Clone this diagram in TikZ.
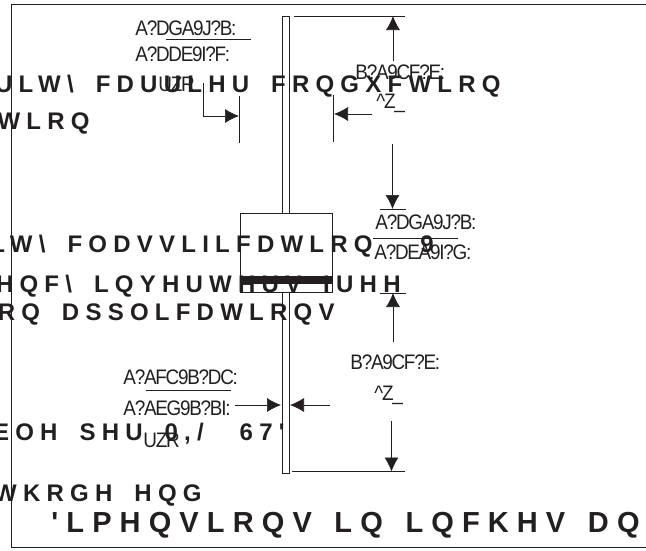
\documentclass[tikz,border=0pt]{standalone}
\usepackage{fontspec}
\usetikzlibrary{arrows.meta}
\newfontfamily\bigfont[LetterSpace=26,WordSpace=1.7]{Liberation Sans Bold}
\newfontfamily\hugefont[LetterSpace=28,WordSpace=1.4]{Liberation Sans Bold}
\newfontfamily\smallfont[LetterSpace=-6,FakeStretch=0.9]{Liberation Sans}
\definecolor{ink}{HTML}{231F20}
\begin{document}
\begin{tikzpicture}[x=1pt,y=-1pt,
    line width=0.8pt,draw=ink,text=ink,
    bigtxt/.style={anchor=base east,inner sep=0pt,font=\bigfont\fontsize{24}{24}\selectfont},
    hugetxt/.style={anchor=base east,inner sep=0pt,font=\hugefont\fontsize{29}{29}\selectfont},
    smalltxt/.style={anchor=base west,inner sep=0pt,font=\smallfont\fontsize{21}{21}\selectfont},
    dimline/.style={line width=0.7pt},
    dimarrow/.style={line width=0.7pt,-{Latex[length=14pt,width=14pt]}}]
  \useasboundingbox (0,0) rectangle (646,550);
  \clip (0,0) rectangle (646,550);
  % frame, tube and switch body
  \draw[line width=1.3pt] (660,4.5) -- (11.5,4.5) -- (11.5,547.5) -- (660,547.5);
  \draw (282,16) rectangle (289.5,473);
  \draw[fill=white] (240,213) rectangle (332,292);
  \fill[ink] (240,276) rectangle (332,283.5);
  % extension lines
  \coordinate (topa) at (294,16);
  \coordinate (topb) at (405,16);
  \coordinate (mida) at (380,209);
  \coordinate (midb) at (406,209);
  \coordinate (lowa) at (380,293);
  \coordinate (lowb) at (406,293);
  \coordinate (bota) at (292,471.5);
  \coordinate (botb) at (405,471.5);
  \coordinate (leftup) at (239.5,96);
  \coordinate (leftdn) at (239.5,143);
  \coordinate (rightup) at (333.5,95);
  \coordinate (rightdn) at (333.5,142);
  \coordinate (benda) at (203,83);
  \coordinate (bendb) at (203,116);
  \coordinate (bendc) at (239,116);
  \coordinate (ra) at (372,114);
  \coordinate (rb) at (334,114);
  \coordinate (fa) at (166,39.5);
  \coordinate (fb) at (251,39.5);
  \coordinate (ga) at (373,238);
  \coordinate (gb) at (458,238);
  \coordinate (ha) at (146,390);
  \coordinate (hb) at (231,390);
  \coordinate (s1) at (393,61);
  \coordinate (e1) at (393,16);
  \coordinate (s2) at (392.5,144);
  \coordinate (e2) at (392.5,209);
  \coordinate (s3) at (393,342);
  \coordinate (e3) at (393,293);
  \coordinate (s4) at (391.5,421);
  \coordinate (e4) at (391.5,471.5);
  \coordinate (s5) at (235,405);
  \coordinate (e5) at (281,405);
  \coordinate (s6) at (330,405);
  \coordinate (e6) at (290,405);
  \draw[dimline] (topa) to (topb);
  \draw[dimline] (mida) to (midb);
  \draw[dimline] (lowa) to (lowb);
  \draw[dimline] (bota) to (botb);
  \draw[dimline] (leftup) to (leftdn);
  \draw[dimline] (rightup) to (rightdn);
  \draw[dimline] (fa) to (fb);
  \draw[dimline] (ga) to (gb);
  \draw[dimline] (ha) to (hb);
  \draw[dimline] (benda) to (bendb);
  \begin{scope}[dimarrow]
    \draw (bendb) -- (bendc);
    \draw (ra) to (rb);
    \draw (s1) to (e1);
    \draw (s2) to (e2);
    \draw (s3) to (e3);
    \draw (s4) to (e4);
    \draw (s5) to (e5);
    \draw (s6) to (e6);
  \end{scope}
  % large text
  \node[bigtxt] (l1) at (501,92.5) {ULW\textbackslash\ FDUULHU FRQGXFWLRQ};
  \node[bigtxt] (l2) at (90,129) {WLRQ};
  \node[bigtxt] (l3) at (373,252) {LW\textbackslash\ FODVVLILFDWLRQ};
  \node[bigtxt] (l4) at (401,292) {HQF\textbackslash\ LQYHUWHUV IUHH};
  \node[bigtxt] (l5) at (335,320.5) {RQ DSSOLFDWLRQV};
  \node[bigtxt] (l6) at (285,440) {EOH SHU 0,/\hspace{14pt} 67'};
  \node[bigtxt] (l7) at (202,501.5) {WKRGH HQG};
  \node[hugetxt] (l8) at (640,532) {'LPHQVLRQV LQ LQFKHV DQ};
  \node[bigtxt] (nine) at (434,252) {9};
  % small labels
  \node[smalltxt] (a1) at (135,35) {A?DGA9J?B:};
  \node[smalltxt] (a2) at (135,61) {A?DDE9I?F:};
  \node[smalltxt] (a3) at (158,91) {UZR};
  \node[smalltxt] (b1) at (355,79) {B?A9CF?E:};
  \node[smalltxt] (b2) at (376,108) {\textasciicircum Z\_};
  \node[smalltxt] (c1) at (375,229) {A?DGA9J?B:};
  \node[smalltxt] (c2) at (374,259) {A?DEA9I?G:};
  \node[smalltxt] (d1) at (350,369) {B?A9CF?E:};
  \node[smalltxt] (d2) at (374,400) {\textasciicircum Z\_};
  \node[smalltxt] (f1) at (123,384) {A?AFC9B?DC:};
  \node[smalltxt] (f2) at (123,415) {A?AEG9B?BI:};
  \node[smalltxt] (f3) at (143,447) {UZR};
\end{tikzpicture}
\end{document}
